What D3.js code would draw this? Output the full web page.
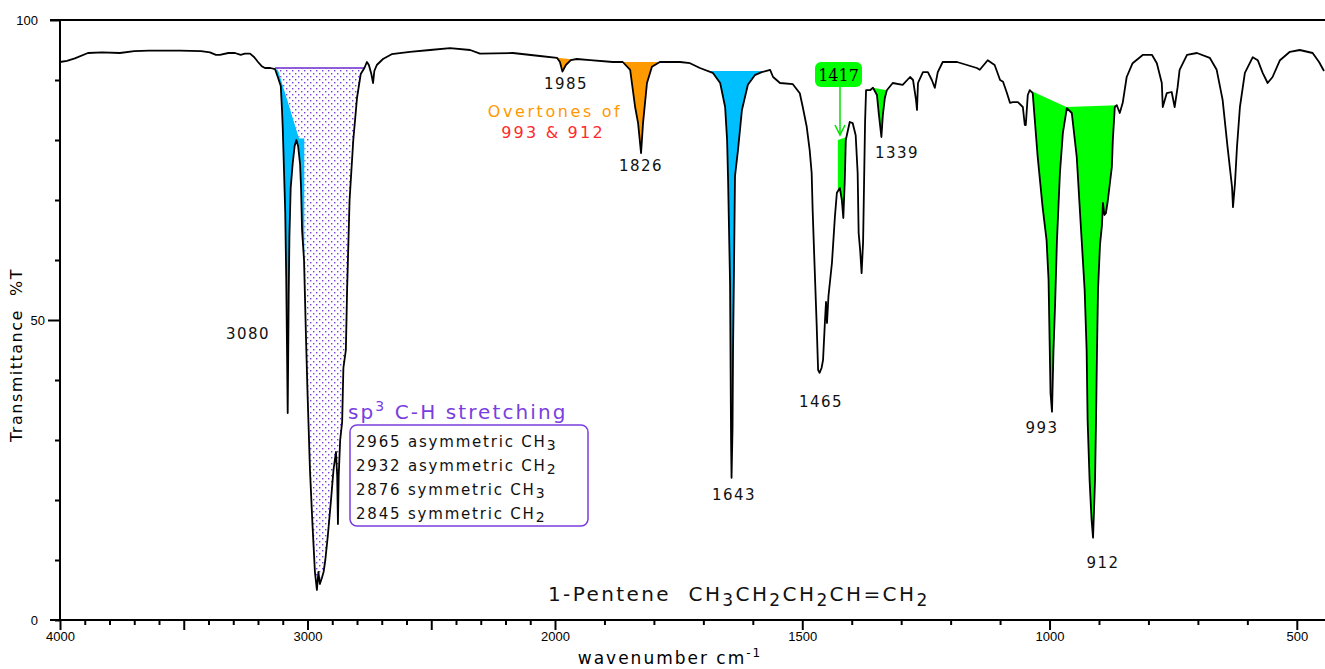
<!DOCTYPE html>
<html>
<head>
<meta charset="utf-8">
<script src="https://cdn.jsdelivr.net/npm/d3@7"></script>
<style>
  body { margin: 0; background: #fff; }
  svg { display: block; }
  text { font-family: "DejaVu Sans", Verdana, sans-serif; }
</style>
</head>
<body>
<svg id="chart" width="1325" height="669"></svg>
<script>
// IR spectrum of 1-pentene, [wavenumber, %T]
const spectrum = [
  [4000,93],[3972,93.2],[3940,93.6],[3887,94.5],[3830,94.6],[3758,94.5],[3700,94.8],[3640,94.9],
  [3515,94.9],[3430,94.8],[3394,94.6],[3370,94.2],[3354,94.2],[3320,94.5],[3293,94.5],[3270,94.2],
  [3253,94.4],[3232,94.4],[3215,93.8],[3200,93],[3185,92.3],[3172,92],[3150,92],[3131,91.8],
  [3120,90.5],[3108,89],[3103,85],[3100,82],[3095,75],[3090,68],[3086,57],[3083,46],[3080,34.5],
  [3078,44],[3076,54],[3073,64],[3068,72],[3060,76],[3052,79],[3045,80],[3038,79],[3030,76],
  [3026,72],[3022,65],[3014,60],[3006,47],[3000,38],[2990,25],[2980,16],[2970,8],[2962,5],
  [2956,8],[2950,6],[2942,7],[2935,8],[2928,10],[2918,14],[2905,20],[2895,25],[2885,28],
  [2880,24],[2877,16],[2874,24],[2868,30],[2860,33],[2855,42],[2845,45],[2840,55],[2830,70],
  [2815,80],[2800,87],[2785,91],[2770,92],[2760,93],[2752,92.5],[2742,91],[2735,89.5],[2730,91.5],
  [2720,92.5],[2695,93.5],[2660,94.3],[2586,94.7],[2505,95],[2424,95.3],[2343,95],[2303,94.4],
  [2170,94.5],[2061,94],[1996,93.7],[1990,93],[1985,91.4],[1978,92.5],[1968,93.3],[1956,93.5],
  [1929,93.3],[1883,93],[1863,93],[1848,91.7],[1838,85.5],[1832,82.8],[1826,77.8],[1822,82.8],
  [1814,89.5],[1804,92.2],[1788,93],[1747,93],[1727,92.8],[1707,92],[1681,91.2],[1666,89.5],
  [1656,85.5],[1652,80],[1650,73.3],[1646,56],[1644,30],[1643,23.7],[1641,32],[1640,45],[1638,59],
  [1636,74],[1630,78.3],[1622,85],[1610,89.2],[1596,90.8],[1582,91.3],[1565,91.7],[1559,90.5],
  [1545,89.5],[1519,89.3],[1505,87.8],[1499,85.5],[1491,82.2],[1485,78.3],[1481,74.5],[1479,68.3],
  [1475,58.8],[1471,49.5],[1468,41.7],[1465,41.2],[1461,42],[1458,43.3],[1454,50],[1452,53],
  [1450,49.5],[1447,54],[1440,59.5],[1434,67.2],[1430,71.2],[1424,72],[1420,70],[1417,67],
  [1414,73.3],[1412,80],[1404,83],[1398,82.8],[1392,80.8],[1388,74.5],[1386,64.5],[1383,61.7],
  [1380,57.8],[1377,63],[1375,73],[1373,83],[1371,88.3],[1363,88.3],[1357,88.7],[1349,87.5],
  [1345,84.2],[1340,80.5],[1337,84.2],[1333,87],[1329,88.3],[1317,89.5],[1297,89.2],[1282,90.5],
  [1276,90],[1270,86.7],[1268,85],[1266,89.5],[1256,91.3],[1246,91.3],[1238,90],[1232,88.7],
  [1226,91.3],[1216,93],[1187,93],[1167,92.5],[1147,92],[1141,91.7],[1125,93.3],[1111,92.5],
  [1100,90],[1094,89.7],[1086,87.8],[1080,86.2],[1074,86.3],[1064,86.3],[1054,85.5],[1050,82.5],
  [1048,82.5],[1044,87.5],[1040,88.3],[1034,87.8],[1024,77.2],[1014,68.8],[1006,63.3],[1002,56.7],
  [1000,47.2],[998,37.8],[995,34.7],[992,45],[989,52],[985,63.3],[979,74.5],[973,81.2],[965,85.3],
  [955,84.5],[945,77.2],[939,68.8],[935,63.3],[929,55],[925,45],[923,33.3],[919,23.3],[915,16.7],
  [912,13.7],[908,23.3],[906,33.3],[904,45],[902,55],[898,62.5],[894,65.8],[892,69.5],[889,67.5],
  [886,67.8],[882,70],[874,75.5],[872,80],[868,85.5],[864,85.8],[858,84.5],[852,86.2],[844,90.5],
  [832,92.8],[811,94.2],[793,94.2],[783,92.8],[773,89.5],[771,85.5],[763,87.8],[753,88],[747,85.5],
  [741,88.8],[737,91.7],[722,94.2],[702,94.5],[676,93.7],[662,91.7],[650,86.7],[640,78.8],
  [631,72.2],[629,68.8],[625,72.8],[621,78.8],[615,85.5],[605,91.2],[589,93.8],[579,93.3],
  [569,91.2],[559,89.5],[549,90.5],[534,93.3],[514,94.7],[494,95],[468,94.5],[455,93],[445,91.5]
];

// shaded bands: curve from `from` to `to`, closed back along `bound`
const bands = [
  { from: 3131, to: 3016, fill: '#00bfff',
    bound: [[3012,61],[3012,80.3],[3034,80.3],[3119,91.7],[3131,91.8]] },
  { from: 3016, to: 2768, fill: 'url(#dots)',
    bound: [[2768,92],[3131,92],[3119,91.7],[3034,80.3],[3012,80.3],[3012,61]] },
  { from: 1996, to: 1962, fill: '#ff9900', bound: [[1962,93.4],[1996,93.7]] },
  { from: 1865, to: 1787, fill: '#ff9900', bound: [[1787,93],[1865,93]] },
  { from: 1691, to: 1582, fill: '#00bfff', bound: [[1582,91.5],[1691,91.5]] },
  { from: 1428, to: 1410, fill: '#00ff00', bound: [[1410,80.5],[1428,80]] },
  { from: 1357, to: 1329, fill: '#00ff00', bound: [[1329,88.3],[1357,88.7]] },
  { from: 1040, to: 864, fill: '#00ff00', bound: [[864,85.8],[966,85.5],[1040,88.3]] }
];

const peakLabels = ['3080', '1985', '1826', '1643', '1465', '1339', '993', '912'];
const stretchLines = [
  ['2965 asymmetric CH', '3'],
  ['2932 asymmetric CH', '2'],
  ['2876 symmetric CH', '3'],
  ['2845 symmetric CH', '2']
];
const xLabelled = [4000, 3000, 2000, 1500, 1000, 500];
const yLabelled = [0, 50, 100];

const svg = d3.select('#chart');

const x = d3.scaleLinear().domain([4000, 2000, 445]).range([60, 555, 1324]);
const y = d3.scaleLinear().domain([0, 100]).range([620, 20]);

// dotted pattern for sp3 region
const pat = svg.append('defs').append('pattern')
  .attr('id', 'dots').attr('patternUnits', 'userSpaceOnUse')
  .attr('width', 6).attr('height', 6);
pat.append('rect').attr('width', 6).attr('height', 6).attr('fill', '#fff');
pat.append('rect').attr('x', 1).attr('y', 1).attr('width', 1.4).attr('height', 1.4).attr('fill', '#7a3ee0');
pat.append('rect').attr('x', 4).attr('y', 4).attr('width', 1.4).attr('height', 1.4).attr('fill', '#7a3ee0');

function tAt(wn) {
  for (let i = 0; i < spectrum.length - 1; i++) {
    const [a, ta] = spectrum[i], [b, tb] = spectrum[i + 1];
    if (wn <= a && wn >= b) return ta + (tb - ta) * (a - wn) / (a - b);
  }
  return spectrum[spectrum.length - 1][1];
}

const line = d3.line().x(d => x(d[0])).y(d => y(d[1]));

// fills
bands.forEach(b => {
  const pts = [[b.from, tAt(b.from)]]
    .concat(spectrum.filter(d => d[0] < b.from && d[0] > b.to))
    .concat([[b.to, tAt(b.to)]])
    .concat(b.bound);
  svg.append('path').attr('d', line(pts) + 'Z').attr('fill', b.fill).attr('stroke', 'none');
});
svg.append('line')
  .attr('x1', x(3131)).attr('x2', x(2768)).attr('y1', y(92)).attr('y2', y(92))
  .attr('stroke', '#6a2ad0').attr('stroke-width', 1.5);

// spectrum
svg.append('path').datum(spectrum).attr('d', line)
  .attr('fill', 'none').attr('stroke', '#000').attr('stroke-width', 1.8)
  .attr('stroke-linejoin', 'round');

// axes
const xAxis = d3.axisBottom(x)
  .tickValues(d3.range(4000, 499, -100))
  .tickFormat(d => xLabelled.includes(d) ? d : '')
  .tickSizeOuter(0);
const gx = svg.append('g').attr('transform', 'translate(0,620)').call(xAxis);
gx.select('.domain').remove();
gx.selectAll('.tick line').attr('y2', d => d % 500 === 0 ? 10 : 5).attr('stroke-width', 2);
gx.selectAll('.tick text').attr('y', 12).attr('font-size', 13)
  .style('font-family', '"Liberation Sans", Arial, sans-serif');

const yAxis = d3.axisLeft(y)
  .tickValues(d3.range(0, 101, 10))
  .tickFormat(d => yLabelled.includes(d) ? d : '')
  .tickSizeOuter(0);
const gy = svg.append('g').attr('transform', 'translate(60,0)').call(yAxis);
gy.select('.domain').remove();
gy.selectAll('.tick line').attr('x2', d => d === 50 ? -12 : d === 100 ? -10 : -5).attr('stroke-width', 2);
gy.selectAll('.tick text').attr('x', d => d === 0 ? -22 : d === 100 ? -22 : -15).attr('font-size', 13)
  .style('font-family', '"Liberation Sans", Arial, sans-serif');

svg.append('line').attr('x1', 50).attr('x2', 1325).attr('y1', 620).attr('y2', 620)
  .attr('stroke', '#000').attr('stroke-width', 2);
svg.append('line').attr('x1', 50).attr('x2', 1325).attr('y1', 20).attr('y2', 20)
  .attr('stroke', '#000').attr('stroke-width', 2);
svg.append('line').attr('x1', 60).attr('x2', 60).attr('y1', 20).attr('y2', 620)
  .attr('stroke', '#000').attr('stroke-width', 2);

// axis titles
svg.append('text')
  .attr('transform', 'translate(22,355) rotate(-90)')
  .attr('text-anchor', 'middle').attr('font-size', 16).attr('letter-spacing', 1.5)
  .style('white-space', 'pre')
  .text('Transmittance  %T');

const xt = svg.append('text').attr('x', 670).attr('y', 664)
  .attr('text-anchor', 'middle').attr('font-size', 17).attr('letter-spacing', 2);
xt.append('tspan').text('wavenumber cm');
xt.append('tspan').attr('baseline-shift', 'super').attr('font-size', 12).text('-1');

// peak labels
const labelPos = {
  '3080': [248, 339], '1985': [566, 89], '1826': [641, 171], '1643': [734, 500],
  '1465': [821, 407], '1339': [897, 158], '993': [1042, 433], '912': [1103, 568]
};
svg.append('g').selectAll('text').data(peakLabels).join('text')
  .attr('x', d => labelPos[d][0]).attr('y', d => labelPos[d][1])
  .attr('text-anchor', 'middle').attr('font-size', 15).attr('letter-spacing', 1.5)
  .attr('fill', '#111')
  .text(d => d);

svg.append('text').attr('x', 555).attr('y', 117).attr('text-anchor', 'middle')
  .attr('font-size', 16).attr('letter-spacing', 2.6).attr('fill', '#ff9900')
  .text('Overtones of');
svg.append('text').attr('x', 553).attr('y', 138).attr('text-anchor', 'middle')
  .attr('font-size', 16).attr('letter-spacing', 2.2).attr('fill', '#ff2a2a')
  .text('993 & 912');

// 1417 callout
svg.append('rect').attr('x', 815).attr('y', 62).attr('width', 47).attr('height', 25)
  .attr('rx', 6).attr('fill', '#00ff00');
svg.append('text').attr('x', 838.5).attr('y', 81).attr('text-anchor', 'middle')
  .attr('font-size', 16).style('font-family', '"DejaVu Serif", serif')
  .text('1417');
svg.append('line').attr('x1', 840).attr('x2', 840).attr('y1', 87).attr('y2', 134)
  .attr('stroke', '#00e000').attr('stroke-width', 1.5);
svg.append('path').attr('d', 'M835,125 L840,135 L845,125')
  .attr('fill', 'none').attr('stroke', '#00e000').attr('stroke-width', 1.5);

// sp3 C-H annotation
const sp = svg.append('text').attr('x', 348).attr('y', 419)
  .attr('font-size', 20).attr('letter-spacing', 2.1).attr('fill', '#7a3ee0');
sp.append('tspan').text('sp');
sp.append('tspan').attr('baseline-shift', 'super').attr('font-size', 14).text('3');
sp.append('tspan').text(' C-H stretching');

svg.append('rect').attr('x', 350).attr('y', 425).attr('width', 238).attr('height', 101)
  .attr('rx', 7).attr('fill', '#fff').attr('stroke', '#7a3ee0').attr('stroke-width', 1.5);
svg.append('g').selectAll('text').data(stretchLines).join('text')
  .attr('x', 356).attr('y', (d, i) => 447 + i * 24)
  .attr('font-size', 15).attr('letter-spacing', 1.8).attr('fill', '#111')
  .each(function (d) {
    const t = d3.select(this);
    t.append('tspan').text(d[0]);
    t.append('tspan').attr('dy', 3).attr('font-size', 14).text(d[1]);
  });

// title
const title = svg.append('text').attr('x', 548).attr('y', 601)
  .attr('font-size', 20).attr('letter-spacing', 2.4).attr('fill', '#111').style('white-space', 'pre');
[['1-Pentene  CH', 0], ['3', 1], ['CH', 0], ['2', 1], ['CH', 0], ['2', 1],
 ['CH=CH', 0], ['2', 1]].forEach(([s, k], i, arr) => {
  const prev = i > 0 ? arr[i - 1][1] : 0;
  const ts = title.append('tspan').text(s).attr('dy', (k - prev) * 5);
  if (k) ts.attr('font-size', 17);
});
</script>
</body>
</html>
